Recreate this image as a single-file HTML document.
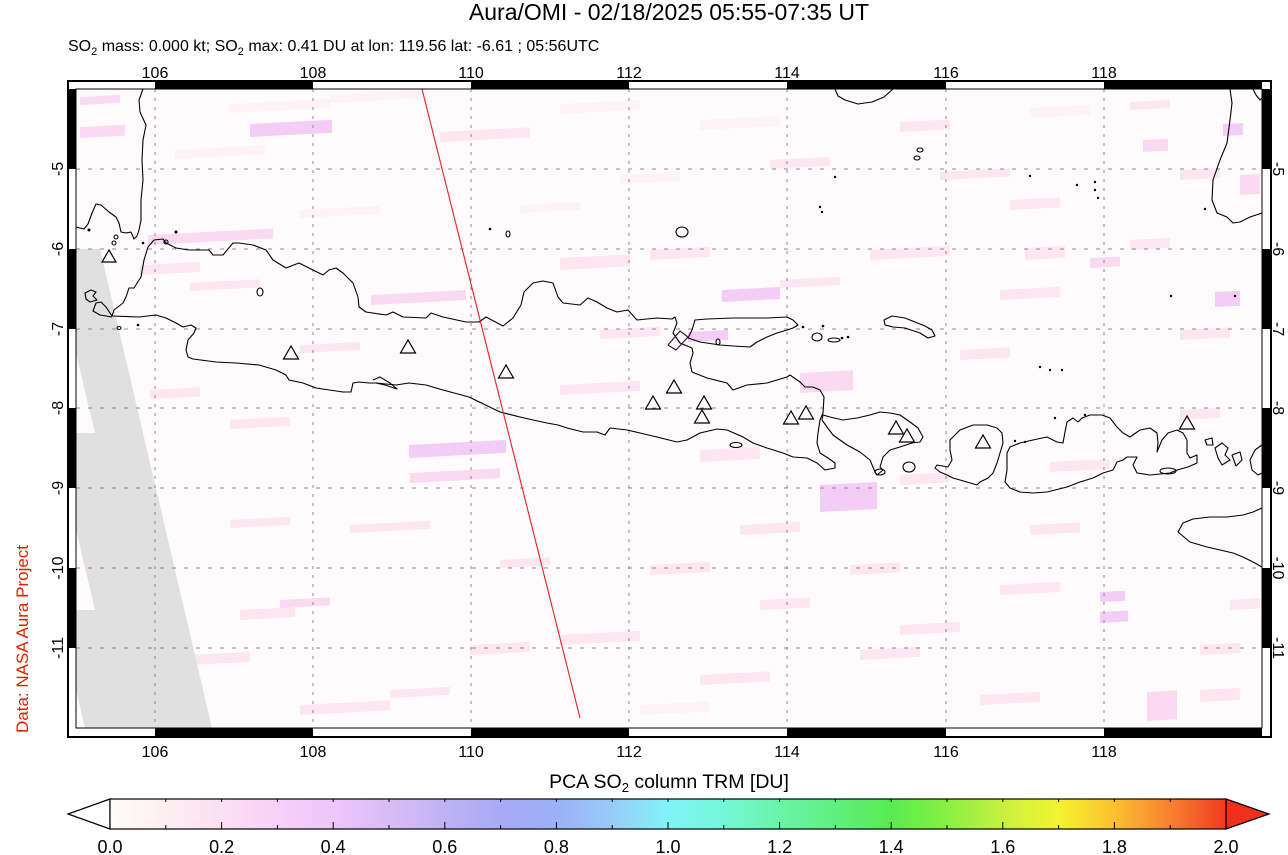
<!DOCTYPE html>
<html><head><meta charset="utf-8"><style>
html,body{margin:0;padding:0;background:#fff;}
svg{display:block;font-family:"Liberation Sans",Arial,sans-serif;}
.c1{fill:#fdf2f6}.c2{fill:#fce6f0}.c3{fill:#f9daf1}.c4{fill:#f3cdf6}
.coast{fill:none;stroke:#000;stroke-width:1.1;stroke-linejoin:round}
.tri{fill:none;stroke:#000;stroke-width:1.2}
.gh{stroke:#8a8a8a;stroke-width:1;stroke-dasharray:4 8}
.gv{stroke:#8a8a8a;stroke-width:1;stroke-dasharray:3 6}
</style></head><body>
<svg width="1288" height="855" viewBox="0 0 1288 855" xmlns="http://www.w3.org/2000/svg">
<defs>
<clipPath id="pc"><rect x="76" y="89" width="1186" height="639"/></clipPath>
<linearGradient id="cb" x1="0" x2="1" y1="0" y2="0">
<stop offset="0" stop-color="#fffcfa"/>
<stop offset="0.05" stop-color="#fdeef2"/>
<stop offset="0.1" stop-color="#fbdff3"/>
<stop offset="0.15" stop-color="#f8d0f8"/>
<stop offset="0.2" stop-color="#eec6fa"/>
<stop offset="0.25" stop-color="#d9bcf6"/>
<stop offset="0.3" stop-color="#c0b2f4"/>
<stop offset="0.35" stop-color="#a8aaf6"/>
<stop offset="0.4" stop-color="#9cb0f8"/>
<stop offset="0.45" stop-color="#98ccf8"/>
<stop offset="0.5" stop-color="#80f4f8"/>
<stop offset="0.55" stop-color="#74f8d8"/>
<stop offset="0.6" stop-color="#68f4a8"/>
<stop offset="0.65" stop-color="#60f080"/>
<stop offset="0.7" stop-color="#58ec50"/>
<stop offset="0.75" stop-color="#88f040"/>
<stop offset="0.8" stop-color="#c8f040"/>
<stop offset="0.85" stop-color="#f4f430"/>
<stop offset="0.9" stop-color="#fcc030"/>
<stop offset="0.95" stop-color="#f88030"/>
<stop offset="1" stop-color="#f03a20"/>
</linearGradient>
</defs>
<rect width="1288" height="855" fill="#fff"/>

<text x="669" y="20" font-size="23" text-anchor="middle">Aura/OMI - 02/18/2025 05:55-07:35 UT</text>
<text x="68" y="51" font-size="16">SO<tspan font-size="11" dy="4">2</tspan><tspan dy="-4"> mass: 0.000 kt; SO</tspan><tspan font-size="11" dy="4">2</tspan><tspan dy="-4"> max: 0.41 DU at lon: 119.56 lat: -6.61 ; 05:56UTC</tspan></text>

<rect x="68" y="81" width="1203" height="656" fill="#fff" stroke="#000" stroke-width="2"/>
<g fill="#000">
<rect x="155" y="81" width="158" height="8"/>
<rect x="471" y="81" width="158" height="8"/>
<rect x="787" y="81" width="159" height="8"/>
<rect x="1104" y="81" width="158" height="8"/>
<rect x="155" y="728" width="158" height="9"/>
<rect x="471" y="728" width="158" height="9"/>
<rect x="787" y="728" width="159" height="9"/>
<rect x="1104" y="728" width="158" height="9"/>
<rect x="68" y="89" width="8" height="80"/>
<rect x="68" y="249" width="8" height="80"/>
<rect x="68" y="408" width="8" height="80"/>
<rect x="68" y="568" width="8" height="80"/>
<rect x="1262" y="89" width="9" height="80"/>
<rect x="1262" y="249" width="9" height="80"/>
<rect x="1262" y="408" width="9" height="80"/>
<rect x="1262" y="568" width="9" height="80"/>
</g>

<g clip-path="url(#pc)">
<rect x="76" y="89" width="1186" height="639" fill="#fffbfc"/>
<g>
<rect class="c3" transform="translate(80,97) skewY(-3)" width="40" height="8"/>
<rect class="c3" transform="translate(80,127) skewY(-3)" width="45" height="11"/>
<rect class="c4" transform="translate(250,124) skewY(-3)" width="82" height="13"/>
<rect class="c1" transform="translate(230,104) skewY(-3)" width="100" height="9"/>
<rect class="c1" transform="translate(175,150) skewY(-3)" width="90" height="9"/>
<rect class="c1" transform="translate(330,95) skewY(-3)" width="90" height="8"/>
<rect class="c2" transform="translate(440,132) skewY(-3)" width="90" height="10"/>
<rect class="c1" transform="translate(560,104) skewY(-3)" width="80" height="10"/>
<rect class="c1" transform="translate(700,120) skewY(-3)" width="80" height="10"/>
<rect class="c2" transform="translate(900,122) skewY(-3)" width="50" height="10"/>
<rect class="c1" transform="translate(1030,108) skewY(-3)" width="60" height="10"/>
<rect class="c2" transform="translate(1130,102) skewY(-3)" width="40" height="8"/>
<rect class="c4" transform="translate(1223,124) skewY(-3)" width="20" height="12"/>
<rect class="c3" transform="translate(1143,140) skewY(-3)" width="25" height="12"/>
<rect class="c2" transform="translate(940,172) skewY(-3)" width="70" height="8"/>
<rect class="c2" transform="translate(770,160) skewY(-3)" width="60" height="9"/>
<rect class="c1" transform="translate(620,175) skewY(-3)" width="60" height="9"/>
<rect class="c2" transform="translate(1180,170) skewY(-3)" width="40" height="10"/>
<rect class="c2" transform="translate(1010,200) skewY(-3)" width="50" height="10"/>
<rect class="c2" transform="translate(1130,240) skewY(-3)" width="40" height="10"/>
<rect class="c3" transform="translate(1240,175) skewY(-3)" width="20" height="20"/>
<rect class="c3" transform="translate(148,235) skewY(-3)" width="125" height="10"/>
<rect class="c2" transform="translate(190,283) skewY(-3)" width="70" height="8"/>
<rect class="c2" transform="translate(140,265) skewY(-3)" width="60" height="10"/>
<rect class="c3" transform="translate(371,295) skewY(-3)" width="95" height="10"/>
<rect class="c2" transform="translate(560,258) skewY(-3)" width="70" height="12"/>
<rect class="c2" transform="translate(650,250) skewY(-3)" width="60" height="10"/>
<rect class="c4" transform="translate(722,290) skewY(-3)" width="58" height="12"/>
<rect class="c2" transform="translate(780,280) skewY(-3)" width="60" height="8"/>
<rect class="c2" transform="translate(870,250) skewY(-3)" width="80" height="10"/>
<rect class="c2" transform="translate(1000,290) skewY(-3)" width="60" height="10"/>
<rect class="c4" transform="translate(1215,292) skewY(-3)" width="25" height="15"/>
<rect class="c3" transform="translate(1090,258) skewY(-3)" width="30" height="10"/>
<rect class="c2" transform="translate(1025,248) skewY(-3)" width="40" height="12"/>
<rect class="c4" transform="translate(688,332) skewY(-3)" width="40" height="10"/>
<rect class="c1" transform="translate(300,210) skewY(-3)" width="80" height="8"/>
<rect class="c1" transform="translate(520,205) skewY(-3)" width="60" height="8"/>
<rect class="c2" transform="translate(600,330) skewY(-3)" width="60" height="9"/>
<rect class="c2" transform="translate(1180,330) skewY(-3)" width="50" height="10"/>
<rect class="c2" transform="translate(960,350) skewY(-3)" width="50" height="10"/>
<rect class="c2" transform="translate(300,345) skewY(-3)" width="60" height="8"/>
<rect class="c4" transform="translate(409,445) skewY(-3)" width="97" height="13"/>
<rect class="c3" transform="translate(410,473) skewY(-3)" width="90" height="10"/>
<rect class="c2" transform="translate(560,385) skewY(-3)" width="80" height="10"/>
<rect class="c3" transform="translate(800,373) skewY(-3)" width="53" height="20"/>
<rect class="c4" transform="translate(820,485) skewY(-3)" width="57" height="27"/>
<rect class="c2" transform="translate(700,450) skewY(-3)" width="60" height="12"/>
<rect class="c2" transform="translate(900,475) skewY(-3)" width="50" height="10"/>
<rect class="c2" transform="translate(1050,462) skewY(-3)" width="60" height="10"/>
<rect class="c2" transform="translate(230,420) skewY(-3)" width="60" height="9"/>
<rect class="c2" transform="translate(150,390) skewY(-3)" width="50" height="9"/>
<rect class="c2" transform="translate(1180,410) skewY(-3)" width="40" height="10"/>
<rect class="c2" transform="translate(350,525) skewY(-3)" width="80" height="8"/>
<rect class="c2" transform="translate(240,610) skewY(-3)" width="55" height="10"/>
<rect class="c2" transform="translate(190,655) skewY(-3)" width="60" height="10"/>
<rect class="c2" transform="translate(300,705) skewY(-3)" width="90" height="10"/>
<rect class="c2" transform="translate(390,690) skewY(-3)" width="60" height="8"/>
<rect class="c2" transform="translate(560,635) skewY(-3)" width="80" height="10"/>
<rect class="c2" transform="translate(650,565) skewY(-3)" width="60" height="10"/>
<rect class="c2" transform="translate(740,525) skewY(-3)" width="60" height="10"/>
<rect class="c2" transform="translate(850,565) skewY(-3)" width="50" height="10"/>
<rect class="c2" transform="translate(900,625) skewY(-3)" width="60" height="10"/>
<rect class="c2" transform="translate(1000,585) skewY(-3)" width="60" height="10"/>
<rect class="c4" transform="translate(1100,592) skewY(-3)" width="25" height="10"/>
<rect class="c4" transform="translate(1100,612) skewY(-3)" width="28" height="11"/>
<rect class="c3" transform="translate(1147,692) skewY(-3)" width="30" height="29"/>
<rect class="c2" transform="translate(1200,645) skewY(-3)" width="40" height="10"/>
<rect class="c2" transform="translate(980,695) skewY(-3)" width="60" height="10"/>
<rect class="c2" transform="translate(700,675) skewY(-3)" width="70" height="10"/>
<rect class="c2" transform="translate(1030,525) skewY(-3)" width="50" height="10"/>
<rect class="c1" transform="translate(640,705) skewY(-3)" width="70" height="10"/>
<rect class="c2" transform="translate(470,645) skewY(-3)" width="60" height="10"/>
<rect class="c2" transform="translate(160,695) skewY(-3)" width="40" height="8"/>
<rect class="c2" transform="translate(230,520) skewY(-3)" width="60" height="8"/>
<rect class="c3" transform="translate(280,600) skewY(-3)" width="50" height="8"/>
<rect class="c2" transform="translate(500,560) skewY(-3)" width="50" height="8"/>
<rect class="c2" transform="translate(860,650) skewY(-3)" width="60" height="10"/>
<rect class="c2" transform="translate(760,600) skewY(-3)" width="50" height="10"/>
<rect class="c2" transform="translate(1200,690) skewY(-3)" width="40" height="12"/>
<rect class="c2" transform="translate(1230,600) skewY(-3)" width="30" height="10"/>
</g>
<path d="M76,249 L100,249 L212,728 L85,728 L76,690 L76,610 L95,610 L76,530 L76,433 L95,433 L76,353 Z" fill="#e0e0e0"/>
<g>
<line class="gh" x1="76" y1="169" x2="1262" y2="169"/>
<line class="gh" x1="76" y1="249" x2="1262" y2="249"/>
<line class="gh" x1="76" y1="329" x2="1262" y2="329"/>
<line class="gh" x1="76" y1="408" x2="1262" y2="408"/>
<line class="gh" x1="76" y1="488" x2="1262" y2="488"/>
<line class="gh" x1="76" y1="568" x2="1262" y2="568"/>
<line class="gh" x1="76" y1="648" x2="1262" y2="648"/>
<line class="gv" x1="155" y1="89" x2="155" y2="728"/>
<line class="gv" x1="313" y1="89" x2="313" y2="728"/>
<line class="gv" x1="471" y1="89" x2="471" y2="728"/>
<line class="gv" x1="629" y1="89" x2="629" y2="728"/>
<line class="gv" x1="787" y1="89" x2="787" y2="728"/>
<line class="gv" x1="946" y1="89" x2="946" y2="728"/>
<line class="gv" x1="1104" y1="89" x2="1104" y2="728"/>
</g>
<g class="coast">
<path d="M143,89 L139,100 L140,112 L146,125 L143,140 L142,160 L143,180 L141,200 L141,220 L139,230 L137,236 L134,239 L131,232 L126,233 L121,232 L119,223 L116,217 L109,212 L101,205 L96,204 L92,213 L88,224 L84,229 L76,227"/>
<path d="M112,316 L114,310 L123,303 L126,297 L129,288 L134,288 L141,277 L144,260 L148,247 L154,240 L163,239 L166,243 L176,248 L189,250 L209,250 L213,255 L223,255 L233,243 L239,243 L253,245 L266,250 L273,260 L286,268 L299,263 L309,268 L323,275 L329,270 L336,268 L343,273 L353,283 L358,297 L359,307 L366,312 L386,315 L393,312 L403,317 L426,318 L431,313 L443,317 L466,322 L479,322 L486,317 L503,326 L513,318 L521,305 L524,292 L533,283 L543,281 L553,283 L558,297 L563,303 L580,305 L588,298 L597,302 L607,308 L617,312 L628,310 L637,320 L657,318 L672,319 L675,317 L677,323 L673,333 L680,343 L692,348 L693,353 L690,363 L692,372 L707,378 L727,383 L733,390 L747,385 L767,383 L777,380 L787,377 L790,375 L800,382 L805,387 L813,387 L820,390 L824,397 L823,413 L820,420 L818,433 L817,443 L820,453 L828,458 L835,463 L835,468 L825,470 L817,463 L807,458 L793,457 L783,453 L767,448 L753,443 L743,437 L727,430 L717,429 L700,433 L687,440 L677,442 L657,437 L640,433 L627,430 L610,428 L605,435 L597,432 L583,432 L567,428 L558,425 L547,423 L533,420 L520,417 L500,412 L469,397 L443,390 L426,385 L409,383 L396,385 L376,383 L369,383 L359,382 L353,383 L351,392 L343,392 L316,388 L303,383 L289,380 L286,375 L276,370 L259,365 L236,363 L216,362 L193,359 L188,357 L186,350 L188,340 L194,333 L196,328 L191,325 L183,327 L176,323 L166,318 L156,315 L139,317 L112,316 Z"/>
<path d="M112,316 L106,307 L101,302 L96,303 L93,311 L100,315 L112,317"/>
<path d="M373,380 L380,377 L390,383 L397,389 L385,385 L376,383"/>
<path d="M85,293 L91,290 L96,292 L93,296 L97,300 L90,302 L86,299 Z"/>
<path d="M695,320 L707,319 L733,318 L767,318 L787,317 L793,320 L798,325 L793,328 L787,330 L777,333 L767,337 L757,342 L750,347 L733,346 L720,345 L700,342 L688,338 L692,330 Z"/>
<path d="M668,345 L680,331 L688,337 L676,350 Z" stroke="#301030"/>
<ellipse cx="682" cy="232" rx="6" ry="5"/>
<ellipse cx="736" cy="445" rx="6" ry="2.5"/>
<ellipse cx="718" cy="342" rx="2" ry="3"/>
<ellipse cx="817" cy="337" rx="5" ry="4"/>
<ellipse cx="834" cy="340" rx="6" ry="2"/>
<path d="M884,320 L892,316 L905,318 L915,322 L925,326 L932,330 L935,336 L928,338 L920,333 L905,328 L893,327 L885,325 Z"/>
<path d="M835,89 L838,96 L845,100 L858,104 L872,102 L884,97 L893,89"/>
<path d="M823,415 L830,417 L843,420 L857,418 L870,415 L880,412 L890,413 L900,415 L910,422 L918,428 L923,437 L920,442 L912,443 L900,447 L890,450 L883,457 L880,467 L883,470 L877,475 L875,472 L870,460 L860,452 L847,445 L833,435 L827,427 L822,420 Z"/>
<ellipse cx="909" cy="467" rx="6" ry="5"/>
<ellipse cx="880" cy="472" rx="5" ry="3"/>
<path d="M950,440 L960,430 L973,425 L987,425 L997,428 L1002,433 L1003,443 L1000,453 L997,463 L993,473 L988,478 L980,482 L977,485 L967,482 L953,478 L947,475 L940,472 L935,468 L937,465 L948,467 L952,460 L950,450 Z"/>
<path d="M1007,453 L1010,447 L1020,443 L1033,440 L1047,437 L1057,442 L1063,443 L1065,432 L1067,422 L1073,418 L1078,422 L1082,418 L1090,415 L1102,415 L1110,418 L1117,427 L1123,433 L1130,437 L1140,430 L1150,428 L1157,433 L1158,443 L1157,452 L1162,440 L1168,433 L1177,430 L1183,433 L1187,440 L1187,453 L1190,458 L1197,455 L1197,463 L1188,467 L1177,470 L1170,473 L1150,475 L1137,473 L1133,465 L1137,457 L1127,457 L1123,460 L1117,462 L1113,470 L1103,473 L1093,478 L1080,482 L1067,487 L1047,492 L1033,493 L1020,492 L1010,488 L1005,482 L1007,470 Z"/>
<ellipse cx="1168" cy="471" rx="8" ry="3"/>
<path d="M1205,440 L1212,438 L1213,445 L1207,445 Z"/>
<path d="M1215,448 L1222,443 L1228,448 L1225,455 L1230,460 L1222,465 L1218,458 Z"/>
<path d="M1232,455 L1240,452 L1242,460 L1236,466 Z"/>
<path d="M1262,445 L1255,450 L1250,460 L1252,470 L1258,475 L1262,473"/>
<path d="M1262,508 L1253,512 L1243,515 L1227,517 L1210,517 L1193,519 L1183,523 L1178,532 L1190,542 L1207,547 L1220,550 L1233,553 L1243,557 L1253,562 L1262,567"/>
<path d="M1230,89 L1232,103 L1230,120 L1227,143 L1220,160 L1213,180 L1212,200 L1217,213 L1227,217 L1233,223 L1240,222 L1250,217 L1262,213"/>
<path d="M1253,89 L1256,95 L1260,100 L1262,98"/>
<ellipse cx="920" cy="150" rx="3" ry="2"/>
<ellipse cx="917" cy="158" rx="3" ry="2"/>
<ellipse cx="116" cy="237" rx="2" ry="2"/>
<ellipse cx="114" cy="243" rx="2" ry="2"/>
<ellipse cx="166" cy="242" rx="2" ry="2"/>
<ellipse cx="119" cy="328" rx="2" ry="1.5"/>
<ellipse cx="260" cy="292" rx="3" ry="4"/>
<ellipse cx="508" cy="234" rx="2" ry="3"/>
</g>
<g fill="#000">
<circle cx="143" cy="243" r="1.3"/><circle cx="176" cy="232" r="1.5"/><circle cx="490" cy="229" r="1.3"/>
<circle cx="138" cy="325" r="1.3"/><circle cx="89" cy="230" r="1.5"/>
<circle cx="835" cy="177" r="1.2"/><circle cx="820" cy="207" r="1.2"/><circle cx="822" cy="212" r="1.2"/>
<circle cx="1030" cy="176" r="1.2"/><circle cx="1077" cy="185" r="1.2"/><circle cx="1095" cy="182" r="1.2"/>
<circle cx="1095" cy="190" r="1.2"/><circle cx="1098" cy="198" r="1.2"/><circle cx="1205" cy="209" r="1.2"/>
<circle cx="1171" cy="296" r="1.2"/><circle cx="1235" cy="296" r="1.2"/>
<circle cx="803" cy="327" r="1.3"/><circle cx="823" cy="326" r="1.3"/><circle cx="842" cy="338" r="1.3"/><circle cx="848" cy="337" r="1.3"/>
<circle cx="1040" cy="367" r="1.2"/><circle cx="1050" cy="370" r="1.2"/><circle cx="1062" cy="370" r="1.2"/>
<circle cx="1055" cy="418" r="1.2"/><circle cx="1085" cy="415" r="1.2"/><circle cx="1015" cy="441" r="1.2"/><circle cx="1025" cy="442" r="1.2"/>
</g>
<g class="tri">
<polygon points="109,250 102,262 116,262"/>
<polygon points="291,346 283.5,359 298.5,359"/>
<polygon points="408,340 400.5,353 415.5,353"/>
<polygon points="506,365 498.5,378 513.5,378"/>
<polygon points="653,396 645.5,409 660.5,409"/>
<polygon points="674,380 666.5,393 681.5,393"/>
<polygon points="704,396 696.5,409 711.5,409"/>
<polygon points="702,410 694.5,423 709.5,423"/>
<polygon points="791,411 783.5,424 798.5,424"/>
<polygon points="806,406 798.5,419 813.5,419"/>
<polygon points="896,421 888.5,434 903.5,434"/>
<polygon points="907,429 899.5,442 914.5,442"/>
<polygon points="983,435 975.5,448 990.5,448"/>
<polygon points="1187,416 1179.5,429 1194.5,429"/>
</g>
<line x1="422" y1="89" x2="580" y2="718" stroke="#dd2222" stroke-width="1.1"/>
</g>
<rect x="76" y="89" width="1186" height="639" fill="none" stroke="#000" stroke-width="1"/>

<g font-size="16" text-anchor="middle">
<text x="155" y="78">106</text><text x="313" y="78">108</text><text x="471" y="78">110</text>
<text x="629" y="78">112</text><text x="787" y="78">114</text><text x="946" y="78">116</text><text x="1104" y="78">118</text>
<text x="155" y="757">106</text><text x="313" y="757">108</text><text x="471" y="757">110</text>
<text x="629" y="757">112</text><text x="787" y="757">114</text><text x="946" y="757">116</text><text x="1104" y="757">118</text>
<text transform="translate(63,169) rotate(-90)">-5</text>
<text transform="translate(63,249) rotate(-90)">-6</text>
<text transform="translate(63,329) rotate(-90)">-7</text>
<text transform="translate(63,408) rotate(-90)">-8</text>
<text transform="translate(63,488) rotate(-90)">-9</text>
<text transform="translate(63,568) rotate(-90)">-10</text>
<text transform="translate(63,648) rotate(-90)">-11</text>
<text transform="translate(1273,169) rotate(90)">-5</text>
<text transform="translate(1273,249) rotate(90)">-6</text>
<text transform="translate(1273,329) rotate(90)">-7</text>
<text transform="translate(1273,408) rotate(90)">-8</text>
<text transform="translate(1273,488) rotate(90)">-9</text>
<text transform="translate(1273,568) rotate(90)">-10</text>
<text transform="translate(1273,648) rotate(90)">-11</text>
</g>
<text transform="translate(28,639) rotate(-90)" font-size="17" fill="#dd2200" text-anchor="middle">Data: NASA Aura Project</text>

<text x="669" y="788" font-size="19.5" text-anchor="middle">PCA SO<tspan font-size="13" dy="4">2</tspan><tspan dy="-4"> column TRM [DU]</tspan></text>
<polygon points="110,799 68,814 110,829" fill="#fff" stroke="#000" stroke-width="1.2"/>
<polygon points="1226,799 1269,814 1226,829" fill="#f03018" stroke="#000" stroke-width="1.2"/>
<rect x="110" y="799" width="1116" height="30" fill="url(#cb)" stroke="#000" stroke-width="1.2"/>
<g stroke="#000" stroke-width="1">
<line x1="165.8" y1="829" x2="165.8" y2="825"/><line x1="221.6" y1="829" x2="221.6" y2="822"/>
<line x1="277.4" y1="829" x2="277.4" y2="825"/><line x1="333.2" y1="829" x2="333.2" y2="822"/>
<line x1="389" y1="829" x2="389" y2="825"/><line x1="444.8" y1="829" x2="444.8" y2="822"/>
<line x1="500.6" y1="829" x2="500.6" y2="825"/><line x1="556.4" y1="829" x2="556.4" y2="822"/>
<line x1="612.2" y1="829" x2="612.2" y2="825"/><line x1="668" y1="829" x2="668" y2="822"/>
<line x1="723.8" y1="829" x2="723.8" y2="825"/><line x1="779.6" y1="829" x2="779.6" y2="822"/>
<line x1="835.4" y1="829" x2="835.4" y2="825"/><line x1="891.2" y1="829" x2="891.2" y2="822"/>
<line x1="947" y1="829" x2="947" y2="825"/><line x1="1002.8" y1="829" x2="1002.8" y2="822"/>
<line x1="1058.6" y1="829" x2="1058.6" y2="825"/><line x1="1114.4" y1="829" x2="1114.4" y2="822"/>
<line x1="1170.2" y1="829" x2="1170.2" y2="825"/>
<line x1="165.8" y1="799" x2="165.8" y2="802"/><line x1="221.6" y1="799" x2="221.6" y2="802"/>
<line x1="277.4" y1="799" x2="277.4" y2="802"/><line x1="333.2" y1="799" x2="333.2" y2="802"/>
<line x1="389" y1="799" x2="389" y2="802"/><line x1="444.8" y1="799" x2="444.8" y2="802"/>
<line x1="500.6" y1="799" x2="500.6" y2="802"/><line x1="556.4" y1="799" x2="556.4" y2="802"/>
<line x1="612.2" y1="799" x2="612.2" y2="802"/><line x1="668" y1="799" x2="668" y2="802"/>
<line x1="723.8" y1="799" x2="723.8" y2="802"/><line x1="779.6" y1="799" x2="779.6" y2="802"/>
<line x1="835.4" y1="799" x2="835.4" y2="802"/><line x1="891.2" y1="799" x2="891.2" y2="802"/>
<line x1="947" y1="799" x2="947" y2="802"/><line x1="1002.8" y1="799" x2="1002.8" y2="802"/>
<line x1="1058.6" y1="799" x2="1058.6" y2="802"/><line x1="1114.4" y1="799" x2="1114.4" y2="802"/>
<line x1="1170.2" y1="799" x2="1170.2" y2="802"/>
</g>
<g font-size="18" text-anchor="middle">
<text x="110" y="853">0.0</text><text x="221.6" y="853">0.2</text><text x="333.2" y="853">0.4</text>
<text x="444.8" y="853">0.6</text><text x="556.4" y="853">0.8</text><text x="668" y="853">1.0</text>
<text x="779.6" y="853">1.2</text><text x="891.2" y="853">1.4</text><text x="1002.8" y="853">1.6</text>
<text x="1114.4" y="853">1.8</text><text x="1226" y="853">2.0</text>
</g>
</svg>
</body></html>
